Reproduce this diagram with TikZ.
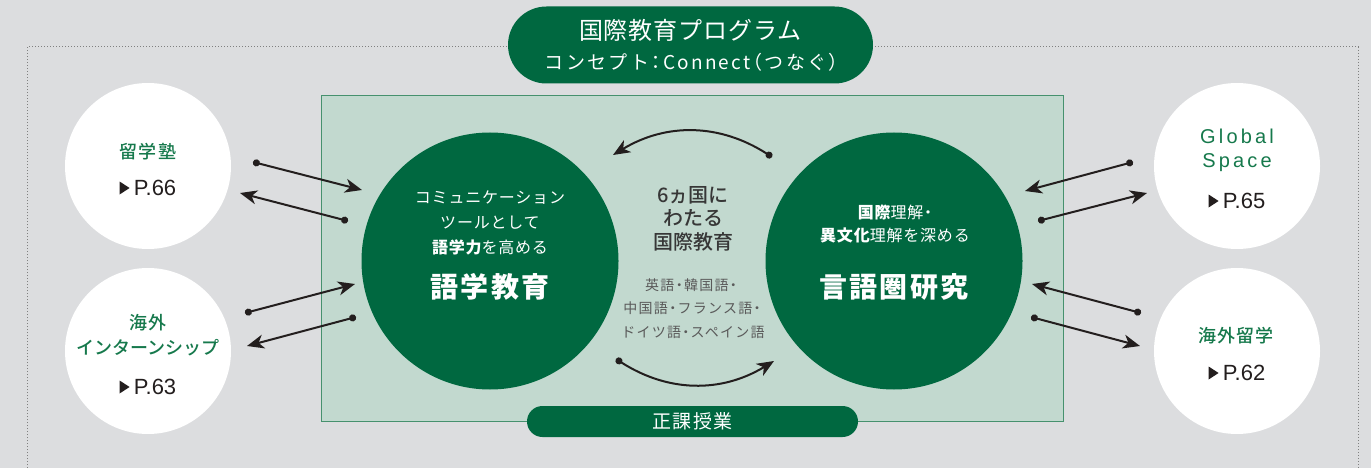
\documentclass[tikz,border=0pt]{standalone}
\usepackage{fontspec}
\setmainfont{Noto Sans CJK JP}
\newfontfamily\medfont{Noto Sans CJK JP Medium}
\newfontfamily\latinfont{Liberation Sans}
\usetikzlibrary{arrows.meta}

\definecolor{paper}{RGB}{220,221,223}
\definecolor{deepgreen}{RGB}{0,104,64}
\definecolor{palegreen}{RGB}{194,217,207}
\definecolor{paneledge}{RGB}{70,145,110}
\definecolor{labelgreen}{RGB}{22,121,76}
\definecolor{ink}{RGB}{35,30,30}
\definecolor{midtext}{RGB}{55,55,55}
\definecolor{listtext}{RGB}{90,90,90}

\newcommand{\fs}[1]{\fontsize{#1}{#1}\selectfont}
\newcommand{\pagemark}[1]{\fill[ink] ([xshift=-4pt]#1.west) -- ++(-10,-6.5) -- ++(0,13) -- cycle;}

\begin{document}
\begin{tikzpicture}[x=1pt,y=-1pt,
  bigcirc/.style={circle,fill=deepgreen,minimum size=257,inner sep=0},
  sidecirc/.style={circle,fill=white,minimum size=166,inner sep=0},
  pill/.style={fill=deepgreen,text=white,inner sep=0},
  txt/.style={inner sep=0,align=center},
  intxt/.style={txt,text=white,font=\fs{16}\addfontfeatures{LetterSpace=5,RawFeature=+halt}},
  headtxt/.style={txt,text=white,font=\fs{28}\bfseries\addfontfeatures{LetterSpace=8}},
  midtxt/.style={txt,text=midtext,font=\medfont\fs{20}},
  listtxt/.style={txt,text=listtext,font=\fs{14}\addfontfeatures{LetterSpace=9,RawFeature=+halt}},
  sidetxt/.style={txt,text=labelgreen,font=\medfont\fs{18}\addfontfeatures{LetterSpace=6}},
  pagetxt/.style={txt,text=ink,font=\latinfont\fs{22}},
  link/.style={draw=ink,line width=2pt,{Circle[length=7pt]}-{Stealth[length=17pt,width=14pt,inset=5pt]}},
  ]
% background and page size
\fill[paper] (0,0) rectangle (1371,468);
\useasboundingbox (0,0) rectangle (1371,468);

% dotted frame, open at the bottom
\draw[gray,dotted,line width=1pt] (27,468) -- (27,47) -- (1358,47) -- (1358,468);

% title
\node[pill,minimum width=365,minimum height=77,rounded corners=38.5] (title) at (690.5,45) {};
\node[txt,text=white,font=\fs{24}\addfontfeatures{LetterSpace=4}] (title1) at (690.5,30) {国際教育プログラム};
\node[txt,text=white,font=\fs{19}\addfontfeatures{LetterSpace=12,RawFeature=+halt}] (title2) at (691.5,62) {コンセプト：Connect（つなぐ）};

% regular courses panel
\draw[paneledge,fill=palegreen,line width=1pt] (321,96) rectangle (1063,421);
\node[pill,minimum width=331,minimum height=31,rounded corners=15.5,
  font=\fs{19}\addfontfeatures{LetterSpace=8}] (seika) at (692.5,421.5) {正課授業};

% the two main fields
\node[bigcirc] (lang) at (490,261) {};
\node[intxt] (lang1) at (490,198) {コミュニケーション};
\node[intxt] (lang2) at (490,223) {ツールとして};
\node[intxt] (lang3) at (490,247) {{\bfseries 語学力}を高める};
\node[headtxt] (langhead) at (490,287) {語学教育};

\node[bigcirc] (area) at (894,261) {};
\node[intxt] (area1) at (895,212) {{\bfseries 国際}理解・};
\node[intxt] (area2) at (895,235) {{\bfseries 異文化}理解を深める};
\node[headtxt] (areahead) at (894,287) {言語圏研究};

% middle text
\node[midtxt] (mid1) at (693,195) {6ヵ国に};
\node[midtxt] (mid2) at (693,218) {わたる};
\node[midtxt] (mid3) at (693,242) {国際教育};
\node[listtxt] (list1) at (691,285) {英語・韓国語・};
\node[listtxt] (list2) at (692,308) {中国語・フランス語・};
\node[listtxt] (list3) at (693,332) {ドイツ語・スペイン語};

% curved arrows between the fields
\coordinate (tops) at (772,157);
\coordinate (tope) at (613,155);
\coordinate (bots) at (616,359);
\coordinate (bote) at (774,361);
\draw[link] (tops) to[bend right=32] (tope);
\draw[link] (bots) to[bend right=32] (bote);

% side programmes
\node[sidecirc] (juku) at (148,166) {};
\node[sidetxt] (jukuname) at (148,152) {留学塾};
\node[pagetxt] (jukupage) at (155,188) {P.66};
\pagemark{jukupage}

\node[sidecirc] (intern) at (148,351) {};
\node[sidetxt] (intern1) at (148,323) {海外};
\node[sidetxt,font=\medfont\fs{18}] (intern2) at (148,348) {インターンシップ};
\node[pagetxt] (internpage) at (155,387) {P.63};
\pagemark{internpage}

\node[sidecirc] (glob) at (1237,166) {};
\node[sidetxt,font=\latinfont\fs{20}\addfontfeatures{LetterSpace=16}] (glob1) at (1237,136) {Global};
\node[sidetxt,font=\latinfont\fs{20}\addfontfeatures{LetterSpace=16}] (glob2) at (1237,163) {Space};
\node[pagetxt] (globpage) at (1244,201) {P.65};
\pagemark{globpage}

\node[sidecirc] (abroad) at (1237,351) {};
\node[sidetxt] (abroadname) at (1236,336) {海外留学};
\node[pagetxt] (abroadpage) at (1244,373) {P.62};
\pagemark{abroadpage}

% links to the side programmes
\coordinate (l1s) at (253,162);  \coordinate (l1e) at (362,190);
\coordinate (l2s) at (348,221);  \coordinate (l2e) at (240,193);
\coordinate (l3s) at (245,313);  \coordinate (l3e) at (355,284);
\coordinate (l4s) at (356,317);  \coordinate (l4e) at (247,346);
\coordinate (r1s) at (1133,162); \coordinate (r1e) at (1025,191);
\coordinate (r2s) at (1038,221); \coordinate (r2e) at (1147,193);
\coordinate (r3s) at (1141,313); \coordinate (r3e) at (1032,284);
\coordinate (r4s) at (1031,317); \coordinate (r4e) at (1140,346);
\foreach \s/\e in {l1s/l1e,l2s/l2e,l3s/l3e,l4s/l4e,r1s/r1e,r2s/r2e,r3s/r3e,r4s/r4e}
  \draw[link] (\s) -- (\e);
\end{tikzpicture}
\end{document}
